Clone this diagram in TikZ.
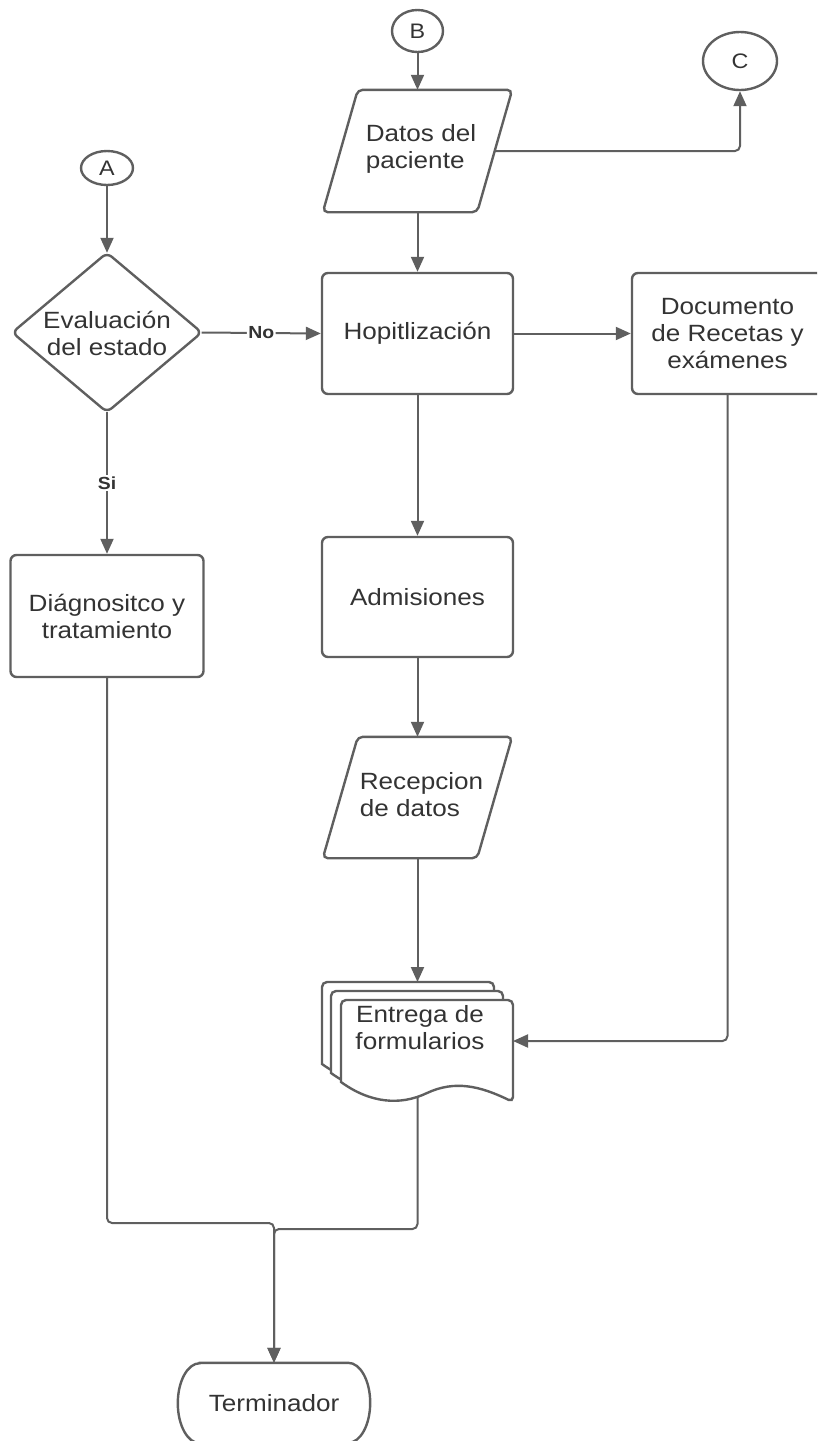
\documentclass[tikz,border=0pt]{standalone}
\usepackage{fontspec}
\setmainfont{Liberation Sans}[FakeStretch=1.11]
\usetikzlibrary{arrows.meta,calc,shapes.geometric}
\definecolor{edge}{HTML}{5F5F5F}
\definecolor{ink}{HTML}{333333}

\tikzset{
  outline/.style={draw=edge, line width=2.4pt},
  txt/.style={text=ink, font=\fontsize{23.5}{27}\selectfont, align=center, inner sep=0pt},
  boxnode/.style={outline, fill=white, rounded corners=6pt, minimum width=191pt, minimum height=121pt, txt},
  frame/.style={inner sep=0pt, minimum width=189pt, txt},
  connector/.style={outline, ellipse, inner sep=0pt, text=ink, font=\fontsize{21}{23}\selectfont},
  conn/.style={draw=edge, line width=2pt, rounded corners=5pt},
  arr/.style={conn, -{Triangle[length=15pt,width=13pt]}},
  tag/.style={fill=white, text=ink, font=\fontsize{17.5}{19}\selectfont\bfseries, inner sep=1.5pt},
  sheet/.pic={
    \draw[outline, fill=white] (0,82) [rounded corners=5pt] -- (0,0) -- (172,0) -- (172,102)
      [sharp corners] .. controls (139,86) and (114,80) .. (86,93)
      .. controls (59,106) and (29,103) .. (0,82) -- cycle;
  }
}

\begin{document}
\begin{tikzpicture}[x=1pt, y=-1pt]
\useasboundingbox (0,0) rectangle (817,1441);
\clip (0,0) rectangle (817,1441);

% off-page connectors
\node[connector, minimum width=51pt, minimum height=42pt] (B) at (417.5,31) {B};
\node[connector, minimum width=74pt, minimum height=58pt] (C) at (740,61) {C};
\node[connector, minimum width=52pt, minimum height=34pt] (A) at (107,168) {A};

% input: patient data
\node[frame, minimum height=122pt] (datos) at (417.5,151) {};
\draw[outline, rounded corners=5pt] ([xshift=35pt]datos.north west) -- (datos.north east)
  -- ([xshift=-35pt]datos.south east) -- (datos.south west) -- cycle;
\node[txt, align=left] (datosText) at (421,149) {Datos del\\paciente};

% decision
\node[frame, minimum height=159pt] (eval) at (107,332.5) {};
\draw[outline, rounded corners=6pt] (eval.north) -- (eval.east) -- (eval.south) -- (eval.west) -- cycle;
\node[txt] (evalText) at (107,333.5) {Evaluación\\del estado};

% process boxes
\node[boxnode] (hosp) at (417.5,333.5) {Hopitlización};
\node[boxnode] (doc) at (727.5,333.5) {Documento\\de Recetas y\\exámenes};
\node[boxnode, minimum height=120pt] (adm) at (417.5,597) {Admisiones};
\node[boxnode, minimum width=193pt, minimum height=122pt] (diag) at (107,616) {Diágnositco y\\tratamiento};

% input: received data
\node[frame, minimum height=121pt] (recep) at (417.5,797.5) {};
\draw[outline, rounded corners=5pt] ([xshift=35pt]recep.north west) -- (recep.north east)
  -- ([xshift=-35pt]recep.south east) -- (recep.south west) -- cycle;
\node[txt, align=left] (recepText) at (421.5,795) {Recepcion\\de datos};

% multiple documents
\pic at (322,982) {sheet};
\pic at (331,991) {sheet};
\pic at (341,1000) {sheet};
\node[txt] (entrega) at (420,1028) {Entrega de\\formularios};
\coordinate (entregaIn) at (417.5,982);
\coordinate (entregaSide) at (513,1041);
\coordinate (entregaOut) at (417.5,1097);

% terminator
\node[frame, minimum width=192pt, minimum height=80pt] (term) at (274,1403) {Terminador};
\draw[outline] ([xshift=22pt]term.north west) -- ([xshift=-22pt]term.north east)
  arc[start angle=90, end angle=-90, x radius=22pt, y radius=40pt]
  -- ([xshift=22pt]term.south west)
  arc[start angle=270, end angle=90, x radius=22pt, y radius=40pt] -- cycle;

% connectors
\draw[arr] (B) -- (datos.north);
\draw[arr] (datos.south) -- (hosp.north);
\draw[arr] ($(datos.east)+(-17.5,0)$) -| (C.south);
\draw[arr] (A) -- (eval.north);
\draw[arr] (eval.east) -- node[tag] (no) {No} (hosp.west);
\draw[arr] (eval.south) -- node[tag] (si) {Si} (diag.north);
\draw[arr] (hosp.east) -- (doc.west);
\draw[arr] (hosp.south) -- (adm.north);
\draw[arr] (adm.south) -- (recep.north);
\draw[arr] (recep.south) -- (entregaIn);
\draw[arr] (doc.south) |- (entregaSide);

\coordinate (joinA) at (274,1223);
\coordinate (joinB) at (274,1229);
\draw[arr] (diag.south) |- (joinA) -- (term.north);
\draw[arr] (entregaOut) |- (joinB) -- (term.north);
\end{tikzpicture}
\end{document}
